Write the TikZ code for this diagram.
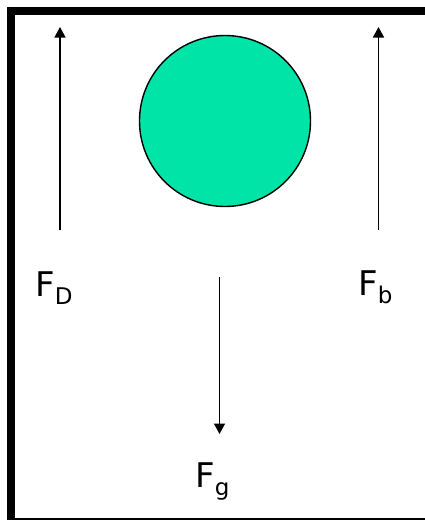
\documentclass[tikz,border=0pt]{standalone}
\usepackage{fontspec}
\setmainfont{DejaVu Sans}
\usetikzlibrary{arrows.meta}
\definecolor{ballgreen}{RGB}{0,228,168}
\tikzset{
  force/.style={line width=1.5pt,-{Triangle[width=11pt,length=10.5pt]}},
  flabel/.style={anchor=base west,inner sep=0pt,font=\fontsize{34}{34}\selectfont},
}
\newcommand{\fsub}[1]{\raisebox{-8pt}{\fontsize{23}{23}\selectfont #1}}
\begin{document}
\begin{tikzpicture}[x=1pt,y=-1pt]
\useasboundingbox (0,0) rectangle (425,520);
% frame
\fill[black] (7,7) rectangle (425,15);
\fill[black] (7,7) rectangle (15,518);
\fill[black] (7,517.5) rectangle (425,520);
% ball
\node[circle,draw=black,line width=1.4pt,fill=ballgreen,minimum size=171pt,inner sep=0pt] (ball) at (225,121) {};
% arrows
\coordinate (dTail) at (60,230);
\coordinate (dTip) at (60,27);
\coordinate (bTail) at (378.5,230);
\coordinate (bTip) at (378.5,27);
\coordinate (gTail) at (219.5,277);
\coordinate (gTip) at (219.5,434);
\draw[force] (dTail) -- (dTip);
\draw[force] (bTail) -- (bTip);
\draw[force] (gTail) -- (gTip);
% labels
\node[flabel] (FD) at (35,296.5) {F\fsub{D}};
\node[flabel] (Fb) at (358,295) {F\fsub{b}};
\node[flabel] (Fg) at (195,487) {F\fsub{g}};
\end{tikzpicture}
\end{document}
